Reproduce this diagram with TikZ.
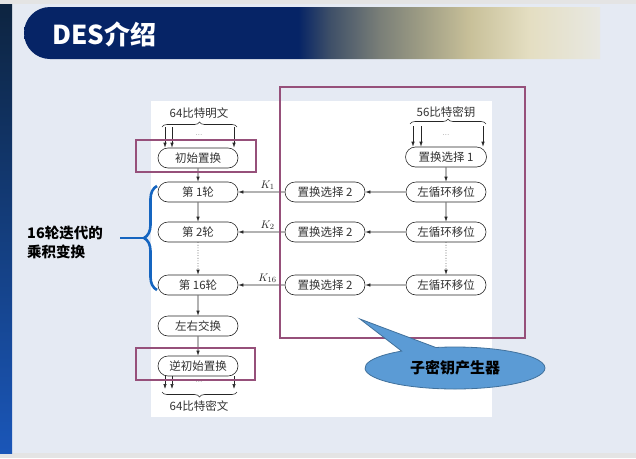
\documentclass[tikz,border=0pt]{standalone}
\usepackage{fontspec}
\newfontfamily\cjk{Noto Sans CJK SC}
\usetikzlibrary{shapes.misc,shapes.callouts,arrows.meta,decorations.pathreplacing}

\definecolor{navy}{RGB}{6,36,102}
\definecolor{bgblue}{RGB}{229,234,243}
\definecolor{edgegray}{RGB}{228,228,228}
\definecolor{plum}{RGB}{150,80,122}
\definecolor{bracebl}{RGB}{21,101,192}
\definecolor{callfill}{RGB}{91,155,213}
\definecolor{calldraw}{RGB}{65,113,156}
\definecolor{fadeA}{RGB}{63,80,104}
\definecolor{fadeB}{RGB}{122,127,120}
\definecolor{fadeC}{RGB}{157,156,132}
\definecolor{fadeD}{RGB}{200,192,153}
\definecolor{fadeE}{RGB}{228,222,194}
\definecolor{fadeF}{RGB}{232,232,226}
\definecolor{stripetop}{RGB}{13,36,64}
\definecolor{stripebot}{RGB}{26,86,184}

\pgfdeclarehorizontalshading{bannershade}{100bp}{color(0bp)=(navy); color(25bp)=(navy);
  color(48.8bp)=(navy); color(51.6bp)=(fadeA); color(55.9bp)=(fadeB); color(59.4bp)=(fadeC);
  color(63.7bp)=(fadeD); color(68.9bp)=(fadeE); color(75bp)=(fadeF); color(100bp)=(fadeF)}

\tikzset{
  stage/.style={rounded rectangle, draw=black!85, line width=0.6pt, minimum width=82pt,
    minimum height=20pt, inner sep=1pt, font=\cjk\fontsize{11.5}{12}\selectfont, text=black!80},
  flow/.style={-{Latex[length=5pt,width=3.4pt]}, line width=0.6pt, black!85},
  hilite/.style={draw=plum, line width=2.6pt},
  note/.style={font=\cjk\fontsize{11.5}{12}\selectfont, text=black!80},
  dotsnote/.style={font=\fontsize{7}{7}\selectfont, text=black!70, inner sep=0pt},
  curly/.style={decorate, decoration={brace, amplitude=5pt}, line width=0.6pt, black!85},
  bluebrace/.style={draw=bracebl, line width=2.6pt},
}

\begin{document}
\begin{tikzpicture}[x=1pt,y=-1pt]
\useasboundingbox (0,0) rectangle (636,458);
\fill[edgegray] (0,0) rectangle (636,458);
\fill[bgblue] (0,4) rectangle (636,453);
\shade[top color=stripetop, bottom color=stripebot] (0,4) rectangle (12,453);

% title bar
\shade[shading=bannershade] (50,7) -- (600,7) -- (600,59) -- (50,59)
  arc[start angle=90, end angle=270, radius=26] -- cycle;
\node[font=\cjk\bfseries\fontsize{26}{30}\selectfont, text=white, anchor=west, inner sep=0pt]
  (title) at (52,34) {DES介绍};

\fill[white] (151,101) rectangle (492,417);

% data path
\node[stage] (ip) at (198,158) {初始置换};
\foreach \nm/\yy/\txt in {r1/192/第 1轮, r2/232/第 2轮, r16/285/第 16轮, sw/326/左右交换, fp/366/逆初始置换}
  \node[stage] (\nm) at (198,\yy) {\txt};
\draw[flow] (ip) -- (r1);
\draw[flow] (r1) -- (r2);
\draw[flow, dotted] (r2) -- (r16);
\draw[flow] (r16) -- (sw);
\draw[flow] (sw) -- (fp);

\node[note] (plain) at (199,113) {64比特明文};
\draw[curly] (162,127) -- (237,127);
\node[dotsnote] (pdots) at (199,135) {...};
\foreach \xx in {165,172,234} {
  \coordinate (in\xx) at (\xx,127);
  \draw[flow] (in\xx) -- (in\xx |- ip.north);
}

\node[note] (cipher) at (199,406) {64比特密文};
\draw[curly, decoration={brace, mirror, amplitude=5pt}] (162,392) -- (237,392);
\node[dotsnote] (cdots) at (199,382) {...};
\foreach \xx in {165,172,234} {
  \coordinate (out\xx) at (\xx,389);
  \draw[flow] (out\xx |- fp.south) -- (out\xx);
}

% key schedule
\node[stage, minimum width=83pt] (pc1) at (446,157) {置换选择 1};
\node[note] (key) at (446,112) {56比特密钥};
\draw[curly] (410,124) -- (486,124);
\node[dotsnote] (kdots) at (446,135) {...};
\foreach \xx in {413,421,483} {
  \coordinate (kin\xx) at (\xx,126);
  \draw[flow] (kin\xx) -- (kin\xx |- pc1.north);
}
\foreach \i/\yy in {1/192, 2/232, 16/285} {
  \node[stage] (ls\i) at (446,\yy) {左循环移位};
  \node[stage] (pb\i) at (325,\yy) {置换选择 2};
  \draw[flow] (ls\i) -- (pb\i);
  \draw[flow] (pb\i) -- node[pos=0.37, above=-1.5pt, font=\fontsize{11}{12}\selectfont] (k\i) {$K_{\i}$} (r\i);
}
\draw[flow] (pc1) -- (ls1);
\draw[flow] (ls1) -- (ls2);
\draw[flow, dotted] (ls2) -- (ls16);

% highlights
\draw[hilite] (136,140) rectangle (256,172);
\draw[hilite] (136,348) rectangle (255,380);
\draw[hilite] (280,87) rectangle (525,338);

% rounds brace
\coordinate (bt) at (157,186);
\coordinate (bb) at (157,290);
\coordinate (btip) at (144,238);
\coordinate (bend) at (120,238);
\draw[bluebrace, decorate, decoration={brace, amplitude=13pt}] (bb) -- (bt);
\draw[bluebrace] (btip) -- (bend);
\node[font=\cjk\bfseries\fontsize{14.5}{19}\selectfont, align=left, anchor=west, inner sep=0pt]
  (rounds) at (27,242) {16轮迭代的\\乘积变换};

\node[ellipse callout, fill=callfill, draw=calldraw, line width=0.8pt, minimum width=180pt,
  minimum height=42pt, callout absolute pointer={(360,319)}, callout pointer arc=24,
  font=\cjk\bfseries\fontsize{15}{18}\selectfont] (gen) at (455,368) {子密钥产生器};
\end{tikzpicture}
\end{document}
